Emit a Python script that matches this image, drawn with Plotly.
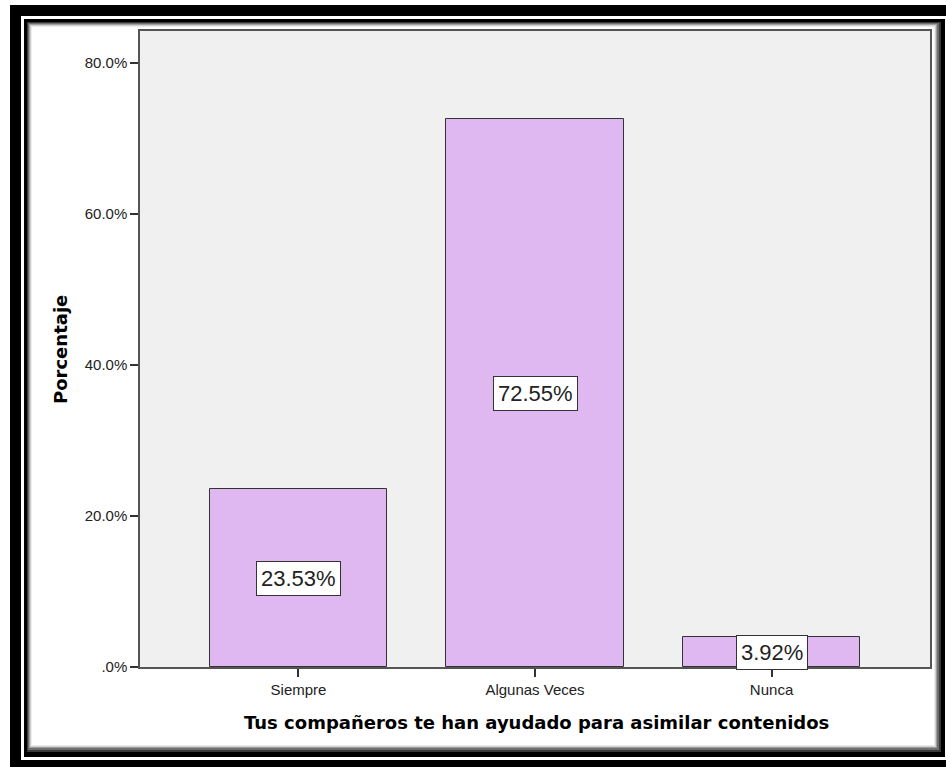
import plotly.graph_objects as go

# Data
categories = ["Siempre", "Algunas Veces", "Nunca"]
percentages = [23.53, 72.55, 3.92]
y_tick_values = [0, 20, 40, 60, 80]
y_tick_labels = [".0%", "20.0%", "40.0%", "60.0%", "80.0%"]
x_title = "Tus compañeros te han ayudado para asimilar contenidos"
y_title = "Porcentaje"

W, H = 946, 767
M_L, M_R, M_T, M_B = 140, 16, 31, 100
PW = W - M_L - M_R
PH = H - M_T - M_B


def px_rect(x0, y0, x1, y1, color):
    """Filled rectangle given in page pixels, converted to paper coordinates."""
    return dict(
        type="rect", xref="paper", yref="paper", layer="below",
        x0=(x0 - M_L) / PW, x1=(x1 - M_L) / PW,
        y0=(H - M_B - y0) / PH, y1=(H - M_B - y1) / PH,
        fillcolor=color, line=dict(width=0),
    )


# Picture frame: black border, thin white rule, inner black border with soft shadow
frame = [
    px_rect(10, 5, 980, 800, "#000000"),
    px_rect(21, 16, 950, 760, "#ffffff"),
    px_rect(24, 19, 945, 757, "#000000"),
    px_rect(27, 22, 941, 752, "#3a3a3a"),
    px_rect(28, 23, 939, 750, "#6e6e6e"),
    px_rect(29, 24, 937, 748, "#a0a0a0"),
    px_rect(30, 25, 936, 747, "#cfcfcf"),
    px_rect(31, 26, 935, 746, "#ececec"),
    px_rect(32, 27, 934, 745, "#ffffff"),
    dict(type="rect", xref="paper", yref="paper", layer="below",
         x0=0, x1=1, y0=0, y1=1, fillcolor="#f0f0f0", line=dict(width=0)),
]

fig = go.Figure()
fig.add_trace(go.Bar(
    x=categories,
    y=percentages,
    width=0.75,
    marker=dict(color="#dfb8f1", line=dict(color="#333333", width=1)),
    hoverinfo="skip",
))

annotations = []
for cat, val in zip(categories, percentages):
    annotations.append(dict(
        x=cat, y=val / 2, xref="x", yref="y",
        text=f"{val:.2f}%", showarrow=False,
        font=dict(family="Liberation Sans, Arial", size=22, color="#222222"),
        bgcolor="#ffffff", bordercolor="#333333", borderwidth=1, borderpad=4,
    ))

annotations.append(dict(
    x=(536 - M_L) / PW, y=(H - M_B - 722) / PH, xref="paper", yref="paper",
    text=f"<b>{x_title}</b>", showarrow=False,
    font=dict(family="DejaVu Sans", size=18, color="#000000"),
    xanchor="center", yanchor="middle",
))
annotations.append(dict(
    x=(61 - M_L) / PW, y=(H - M_B - 350) / PH, xref="paper", yref="paper",
    text=f"<b>{y_title}</b>", showarrow=False, textangle=-90,
    font=dict(family="DejaVu Sans", size=18, color="#000000"),
    xanchor="center", yanchor="middle",
))

tick_font = dict(family="Liberation Sans, Arial", size=15, color="#222222")

fig.update_layout(
    width=W, height=H,
    margin=dict(l=M_L, r=M_R, t=M_T, b=M_B, pad=0),
    paper_bgcolor="#ffffff",
    plot_bgcolor="#f0f0f0",
    showlegend=False,
    shapes=frame,
    annotations=annotations,
    bargap=0,
)
fig.update_xaxes(
    range=[-0.67, 2.67],
    showgrid=False, zeroline=False,
    showline=True, mirror=True, linecolor="#555555", linewidth=1.5,
    ticks="outside", ticklen=8, tickcolor="#333333", tickwidth=1.5,
    tickfont=tick_font,
)
fig.update_yaxes(
    range=[0, 84.2],
    tickvals=y_tick_values, ticktext=y_tick_labels,
    showgrid=False, zeroline=False,
    showline=True, mirror=True, linecolor="#555555", linewidth=1.5,
    ticks="outside", ticklen=8, tickcolor="#333333", tickwidth=1.5,
    tickfont=tick_font,
)

fig.write_html("out.html")
